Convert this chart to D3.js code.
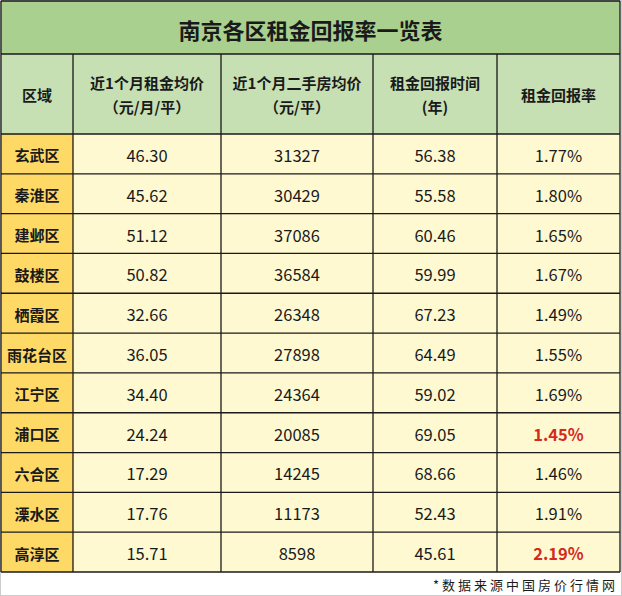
<!DOCTYPE html>
<html>
<head>
<meta charset="utf-8">
<script src="https://cdn.jsdelivr.net/npm/d3@7"></script>
<style>
  body { margin: 0; background: #fff; }
  text { font-family: "Noto Sans CJK SC", "Noto Sans", sans-serif; }
</style>
</head>
<body>
<script>
var title = "南京各区租金回报率一览表";
var headers = [["区域"], ["近1个月租金均价", "（元/月/平）"], ["近1个月二手房均价", "（元/平）"], ["租金回报时间", "(年)"], ["租金回报率"]];
var districts = ["玄武区", "秦淮区", "建邺区", "鼓楼区", "栖霞区", "雨花台区", "江宁区", "浦口区", "六合区", "溧水区", "高淳区"];
var rent = ["46.30", "45.62", "51.12", "50.82", "32.66", "36.05", "34.40", "24.24", "17.29", "17.76", "15.71"];
var price = [31327, 30429, 37086, 36584, 26348, 27898, 24364, 20085, 14245, 11173, 8598];
var years = ["56.38", "55.58", "60.46", "59.99", "67.23", "64.49", "59.02", "69.05", "68.66", "52.43", "45.61"];
var rate = ["1.77%", "1.80%", "1.65%", "1.67%", "1.49%", "1.55%", "1.69%", "1.45%", "1.46%", "1.91%", "2.19%"];
var highlight = ["浦口区", "高淳区"];
var source = "*数据来源中国房价行情网";

var width = 622, height = 596;
var col_edges = [1, 73, 221, 373, 497, 620];
var title_top = 1, title_bottom = 54, head_bottom = 134, body_bottom = 572;

var title_fill = "#a9d08e", head_fill = "#c6e0b4";
var name_fill = "#ffd966", cell_fill = "#fff9d2";
var line_color = "#1a1a1a", red = "#d42a1e";

var svg = d3.select("body").append("svg")
  .attr("width", width).attr("height", height);

var y = d3.scaleBand().domain(districts).range([head_bottom, body_bottom]);

// outer frame
svg.append("rect").attr("x", 0.5).attr("y", 0.5)
  .attr("width", width - 1).attr("height", height - 1)
  .attr("fill", "#fff").attr("stroke", "#ccc");

// title row
svg.append("rect").attr("x", col_edges[0]).attr("y", title_top)
  .attr("width", col_edges[5] - col_edges[0]).attr("height", title_bottom - title_top)
  .attr("fill", title_fill);
svg.append("text").text(title)
  .attr("x", (col_edges[0] + col_edges[5]) / 2).attr("y", (title_top + title_bottom) / 2 + 1)
  .attr("text-anchor", "middle").attr("dominant-baseline", "central")
  .style("font-size", "22px").style("font-weight", "bold").attr("fill", "#1a1a1a");

// header row
var hg = svg.append("g");
headers.forEach(function(h, i) {
  var x0 = col_edges[i], x1 = col_edges[i + 1];
  hg.append("rect").attr("x", x0).attr("y", title_bottom)
    .attr("width", x1 - x0).attr("height", head_bottom - title_bottom)
    .attr("fill", head_fill);
  var cy = (title_bottom + head_bottom) / 2;
  h.forEach(function(line, j) {
    hg.append("text").text(line)
      .attr("x", (x0 + x1) / 2)
      .attr("y", cy + (j - (h.length - 1) / 2) * 24)
      .attr("text-anchor", "middle").attr("dominant-baseline", "central")
      .style("font-size", "15px").style("font-weight", "bold").attr("fill", "#1a1a1a");
  });
});

// body
var rows = districts.map(function(d, i) {
  return [d, rent[i], String(price[i]), years[i], rate[i]];
});
var bg = svg.append("g");
rows.forEach(function(r, i) {
  var top = y(districts[i]);
  r.forEach(function(v, j) {
    var x0 = col_edges[j], x1 = col_edges[j + 1];
    bg.append("rect").attr("x", x0).attr("y", top)
      .attr("width", x1 - x0).attr("height", y.bandwidth())
      .attr("fill", j === 0 ? name_fill : cell_fill);
    var hot = j === 4 && highlight.indexOf(districts[i]) >= 0;
    bg.append("text").text(v)
      .attr("x", (x0 + x1) / 2).attr("y", top + y.bandwidth() / 2 + 1)
      .attr("text-anchor", "middle").attr("dominant-baseline", "central")
      .style("font-size", j === 0 ? "15px" : "16.5px")
      .style("font-weight", (j === 0 || hot) ? "bold" : "normal")
      .attr("fill", hot ? red : "#1a1a1a");
  });
});

// grid lines
var grid = svg.append("g").attr("stroke", line_color).attr("stroke-width", 1.3);
[title_top, title_bottom, head_bottom].concat(districts.map(function(d) { return y(d) + y.bandwidth(); }))
  .forEach(function(yy) {
    grid.append("line").attr("x1", col_edges[0]).attr("x2", col_edges[5])
      .attr("y1", yy).attr("y2", yy);
  });
grid.append("line").attr("x1", col_edges[0]).attr("x2", col_edges[0])
  .attr("y1", title_top).attr("y2", body_bottom);
grid.append("line").attr("x1", col_edges[5]).attr("x2", col_edges[5])
  .attr("y1", title_top).attr("y2", body_bottom);
col_edges.slice(1, 5).forEach(function(xx) {
  grid.append("line").attr("x1", xx).attr("x2", xx)
    .attr("y1", title_bottom).attr("y2", body_bottom);
});

// footer
svg.append("text").text(source)
  .attr("x", 618).attr("y", 584)
  .attr("text-anchor", "end").attr("dominant-baseline", "central")
  .style("font-size", "13px").style("letter-spacing", "3px")
  .attr("fill", "#1a1a1a");
</script>
</body>
</html>
